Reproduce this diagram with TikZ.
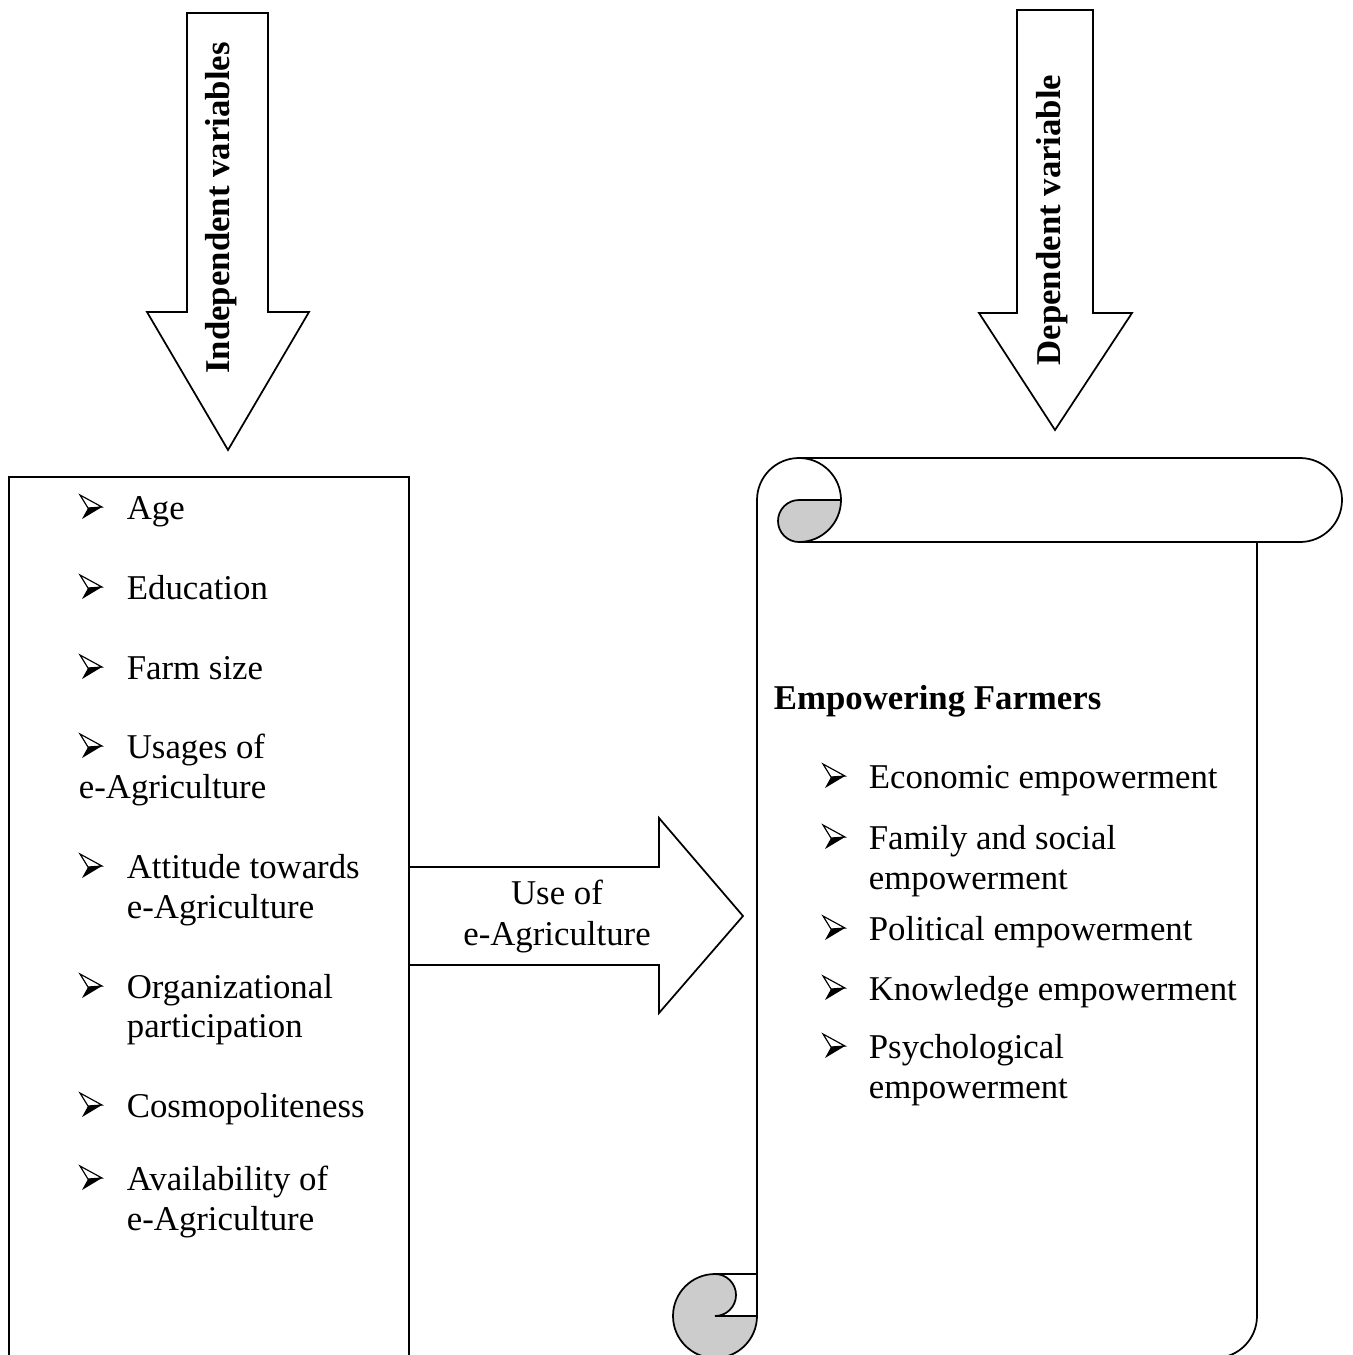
\documentclass[tikz,border=0pt]{standalone}
\usepackage{fontspec}
\setmainfont{Liberation Serif}
\begin{document}
\begin{tikzpicture}[x=0.345pt,y=-0.345pt,line width=0.6pt,
    txt/.style={anchor=base west,inner sep=0pt,font=\fontsize{12}{13.8}\selectfont},
    lbl/.style={anchor=base,inner sep=0pt,font=\fontsize{12}{13.8}\selectfont},
    vlbl/.style={anchor=base,inner sep=0pt,rotate=90,font=\fontsize{12}{13.8}\selectfont\bfseries},
    curl/.style={draw,fill=gray!40},
    arrowbullet/.pic={
      \draw[line width=0.4pt,fill=white] (0,-24) -- (22,-12) -- (8,-11) -- cycle;
      \fill (8,-11) -- (22,-12) -- (2,0) -- cycle;}]
  \useasboundingbox (0,0) rectangle (1352,1355);
  \clip (0,0) rectangle (1352,1355);

  % down arrows
  \draw (187,13) -- (268,13) -- (268,312) -- (309,312) -- (228,450)
    -- (147,312) -- (187,312) -- cycle;
  \draw (1017,10) -- (1093,10) -- (1093,313) -- (1132,313) -- (1055,430)
    -- (979,313) -- (1017,313) -- cycle;
  \node[vlbl] (indep) at (229,208) {Independent variables};
  \node[vlbl] (dep) at (1060,220) {Dependent variable};

  % left box
  \draw (9,477) rectangle (409,1400);
  \node[txt] (age) at (126,519) {Age};
  \node[txt] (edu) at (126,599) {Education};
  \node[txt] (farm) at (126,679) {Farm size};
  \node[txt] (usage) at (126,758) {Usages of};
  \node[txt] (usage2) at (78,798) {e-Agriculture};
  \node[txt] (att) at (126,878) {Attitude towards};
  \node[txt] (att2) at (126,918) {e-Agriculture};
  \node[txt] (org) at (126,998) {Organizational};
  \node[txt] (org2) at (126,1037) {participation};
  \node[txt] (cosmo) at (126,1117) {Cosmopoliteness};
  \node[txt] (avail) at (126,1190) {Availability of};
  \node[txt] (avail2) at (126,1230) {e-Agriculture};
  \pic at (80,519) {arrowbullet};
  \pic at (80,599) {arrowbullet};
  \pic at (80,679) {arrowbullet};
  \pic at (80,758) {arrowbullet};
  \pic at (80,878) {arrowbullet};
  \pic at (80,998) {arrowbullet};
  \pic at (80,1117) {arrowbullet};
  \pic at (80,1190) {arrowbullet};

  % middle arrow
  \draw (409,867) -- (659,867) -- (659,818) -- (743,916) -- (659,1013)
    -- (659,965) -- (409,965);
  \node[lbl] (use) at (557,904) {Use of};
  \node[lbl] (use2) at (557,945) {e-Agriculture};

  % scroll
  \draw (757,1316) -- (757,500) arc[start angle=180,end angle=270,radius=42]
    -- (1300,458) arc[start angle=-90,end angle=90,radius=42] -- (799,542);
  \draw (799,458) arc[start angle=-90,end angle=0,radius=42];
  \draw[curl] (841,500) -- (799,500) arc[start angle=270,end angle=90,radius=21]
    arc[start angle=90,end angle=0,radius=42] -- cycle;
  \draw (1257,542) -- (1257,1316) arc[start angle=0,end angle=90,radius=42]
    -- (715,1358);
  \draw[curl] (715,1274) arc[start angle=270,end angle=0,radius=42]
    -- (715,1316) arc[start angle=90,end angle=-90,radius=21] -- cycle;
  \draw (715,1274) -- (757,1274);
  \node[txt,font=\fontsize{12}{13.8}\selectfont\bfseries] (head) at (773,709) {Empowering Farmers};
  \node[txt] (econ) at (868,788) {Economic empowerment};
  \node[txt] (fam) at (868,849) {Family and social};
  \node[txt] (fam2) at (868,889) {empowerment};
  \node[txt] (pol) at (868,940) {Political empowerment};
  \node[txt] (know) at (868,1000) {Knowledge empowerment};
  \node[txt] (psy) at (868,1058) {Psychological};
  \node[txt] (psy2) at (868,1098) {empowerment};
  \pic at (823,788) {arrowbullet};
  \pic at (823,849) {arrowbullet};
  \pic at (823,940) {arrowbullet};
  \pic at (823,1000) {arrowbullet};
  \pic at (823,1058) {arrowbullet};
\end{tikzpicture}
\end{document}
